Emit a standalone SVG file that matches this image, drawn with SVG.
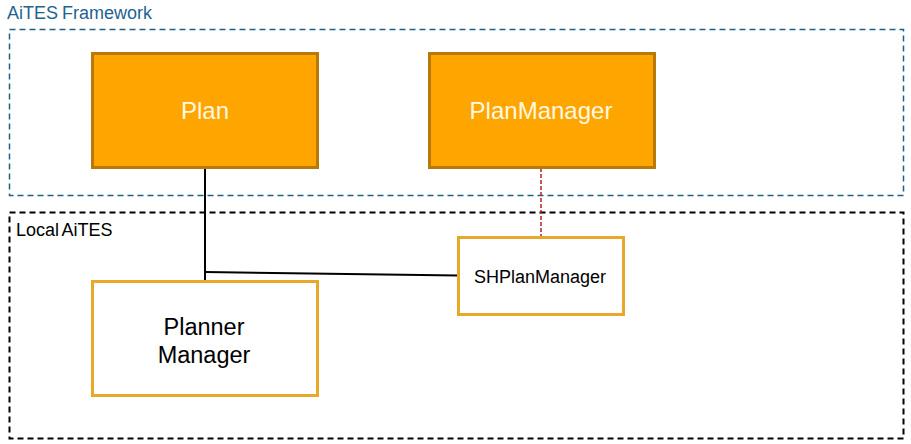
<svg xmlns="http://www.w3.org/2000/svg" width="911" height="444" viewBox="0 0 911 444">
<style>
text{font-family:"Liberation Sans",Arial,sans-serif}
.orange{fill:#FFA500;stroke:#B8780A;stroke-width:3}
.white{fill:#fff;stroke:#E8A82A;stroke-width:3}
.wt{fill:#FFF8E0;font-size:24px;text-anchor:middle}
.bt{fill:#000;text-anchor:middle}
</style>
<rect width="911" height="444" fill="#fff"/>
<g id="aites-framework">
<rect x="9.5" y="29.5" width="894" height="166" fill="none" stroke="#1F5F88" stroke-width="1.5" stroke-dasharray="6,4"/>
<text x="7" y="19" font-size="18" fill="#1F6391" word-spacing="-1">AiTES Framework</text>
</g>
<g id="local-aites">
<rect x="9.5" y="212.5" width="894" height="226" fill="none" stroke="#000" stroke-width="2" stroke-dasharray="6,4"/>
<text x="16" y="236" font-size="18" fill="#000" word-spacing="-1.5">Local AiTES</text>
</g>
<g id="connectors">
<path d="M205 168 V281" stroke="#000" stroke-width="2" fill="none"/>
<path d="M205 272 L458 275.5" stroke="#000" stroke-width="2" fill="none"/>
<path d="M541 168 V237" stroke="#B22222" stroke-width="1.5" stroke-dasharray="4,2" fill="none"/>
</g>
<g id="plan">
<rect class="orange" x="92.5" y="53.5" width="225" height="114"/>
<text class="wt" x="205" y="119">Plan</text>
</g>
<g id="planmanager">
<rect class="orange" x="429.5" y="53.5" width="225" height="114"/>
<text class="wt" x="541" y="119">PlanManager</text>
</g>
<g id="shplanmanager">
<rect class="white" x="458.5" y="237.5" width="165" height="77"/>
<text class="bt" x="540" y="283" font-size="18">SHPlanManager</text>
</g>
<g id="planner-manager">
<rect class="white" x="92.5" y="281.5" width="225" height="114"/>
<text class="bt" x="204" y="335" font-size="23.5">Planner</text>
<text class="bt" x="204" y="363" font-size="23.5">Manager</text>
</g>
</svg>
